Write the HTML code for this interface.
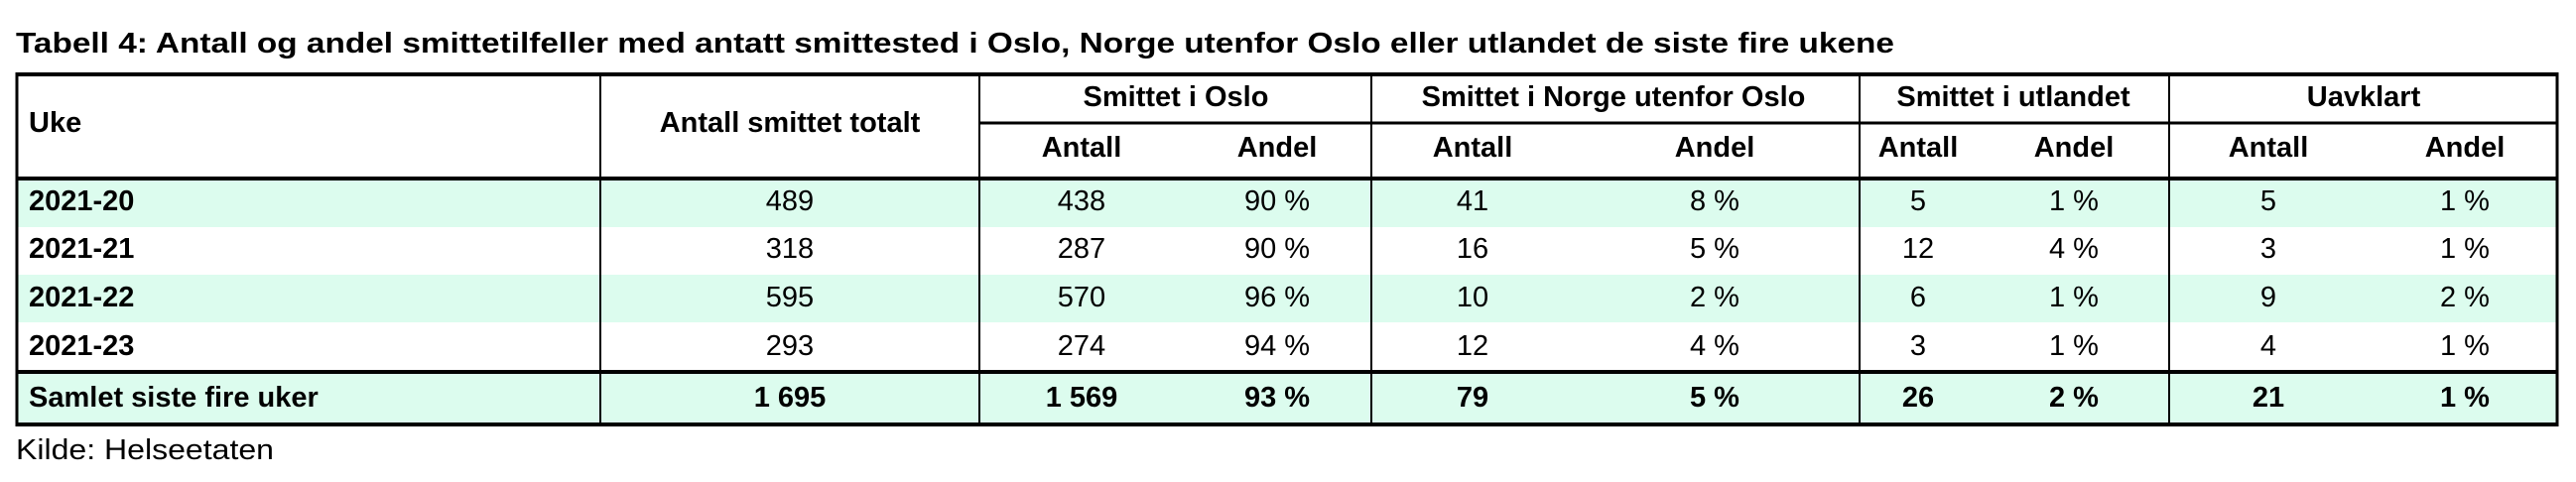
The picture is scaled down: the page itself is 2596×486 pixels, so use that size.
<!DOCTYPE html>
<html><head><meta charset="utf-8"><style>
html,body{margin:0;padding:0;background:#fff;}
svg{display:block;font-family:"Liberation Sans",sans-serif;}
</style></head><body>
<svg id="tbl" width="2596" height="486" viewBox="0 0 2596 486" xmlns="http://www.w3.org/2000/svg">
<text x="16" y="53" font-size="29" font-weight="bold" textLength="1893" lengthAdjust="spacingAndGlyphs">Tabell 4: Antall og andel smittetilfeller med antatt smittested i Oslo, Norge utenfor Oslo eller utlandet de siste fire ukene</text>
<text x="16" y="463" font-size="29" textLength="260" lengthAdjust="spacingAndGlyphs">Kilde: Helseetaten</text>
</svg>
<script>
const weeks = ["2021-20","2021-21","2021-22","2021-23"];
const totals = ["489","318","595","293"];
const osloCount = ["438","287","570","274"];
const osloShare = ["90 %","90 %","96 %","94 %"];
const norgeCount = ["41","16","10","12"];
const norgeShare = ["8 %","5 %","2 %","4 %"];
const utlandCount = ["5","12","6","3"];
const utlandShare = ["1 %","4 %","1 %","1 %"];
const uavklartCount = ["5","3","9","4"];
const uavklartShare = ["1 %","1 %","2 %","1 %"];
const sumRow = ["Samlet siste fire uker","1 695","1 569","93 %","79","5 %","26","2 %","21","1 %"];
const groupHeaders = ["Smittet i Oslo","Smittet i Norge utenfor Oslo","Smittet i utlandet","Uavklart"];

const svg = document.getElementById('tbl');
const NS = 'http://www.w3.org/2000/svg';
const colX = [1090,1287,1484,1728,1933,2090,2286,2484];
const groupX = [1185,1626,2029,2382];
const rowY = [203,251,300,349];
const stripeRows = [[179,50],[277,48],[375,53]];

function rect(x,y,w,h,fill,name){
  const r=document.createElementNS(NS,'rect');
  r.setAttribute('x',x);r.setAttribute('y',y);r.setAttribute('width',w);r.setAttribute('height',h);r.setAttribute('fill',fill);
  
  
  svg.insertBefore(r, svg.firstChild);
  return r;
}
function line(x1,y1,x2,y2,w,name){
  const l=document.createElementNS(NS,'line');
  l.setAttribute('x1',x1);l.setAttribute('y1',y1);l.setAttribute('x2',x2);l.setAttribute('y2',y2);
  l.setAttribute('stroke','#000');l.setAttribute('stroke-width',w);
  
  
  svg.appendChild(l);
}
function text(x,y,s,bold,anchor,name){
  const t=document.createElementNS(NS,'text');
  t.setAttribute('x',x);t.setAttribute('y',y);t.setAttribute('font-size','29');
  t.setAttribute('dominant-baseline','central');
  if(bold)t.setAttribute('font-weight','bold');
  t.setAttribute('text-anchor',anchor);
  t.textContent=s;
  
  
  svg.appendChild(t);
}
stripeRows.forEach(([y,h])=>rect(16,y,2562,h,'#dcfcee','row-stripe'));

text(29,124,'Uke',true,'start','header-uke');
text(796,124,'Antall smittet totalt',true,'middle','header-total');
groupHeaders.forEach((g,i)=>text(groupX[i],98,g,true,'middle','group-header'));
colX.forEach((x,i)=>text(x,149,i%2===0?'Antall':'Andel',true,'middle','sub-header'));

const cols=[osloCount,osloShare,norgeCount,norgeShare,utlandCount,utlandShare,uavklartCount,uavklartShare];
weeks.forEach((w,r)=>{
  text(29,rowY[r],w,true,'start','week-label');
  text(796,rowY[r],totals[r],false,'middle','total-cell');
  cols.forEach((c,i)=>text(colX[i],rowY[r],c[r],false,'middle','data-cell'));
});
text(29,401,sumRow[0],true,'start','sum-label');
text(796,401,sumRow[1],true,'middle','sum-total');
colX.forEach((x,i)=>text(x,401,sumRow[i+2],true,'middle','sum-cell'));

line(16,75,2578,75,4,'top-border');
line(16,428,2578,428,4,'bottom-border');
line(16,180,2578,180,4,'header-bottom-line');
line(16,375,2578,375,4,'sum-top-line');
line(987,124,2578,124,3,'group-header-line');
line(17,73,17,430,3,'left-border');
line(2577,73,2577,430,3,'right-border');
[605,987,1382,1874,2186].forEach(x=>line(x,75,x,428,2,'column-divider'));
</script>
</body></html>
